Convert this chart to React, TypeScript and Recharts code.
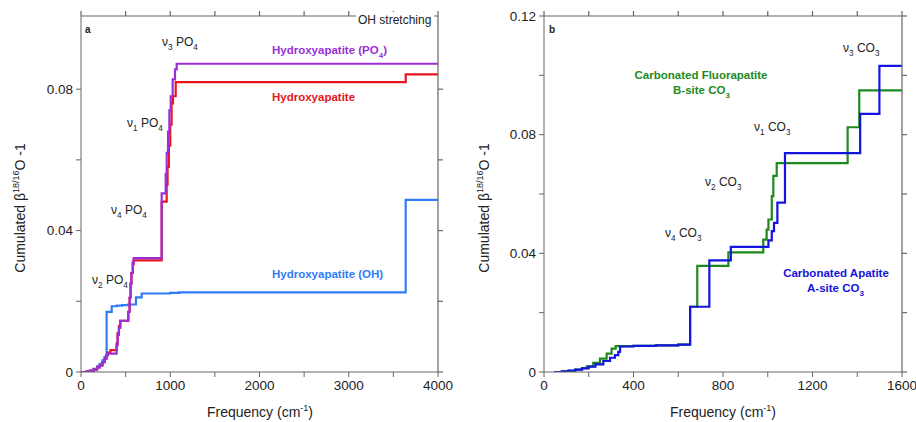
import { LineChart, Line, XAxis, YAxis } from "recharts";

// panel a: cumulated beta vs frequency (stepAfter points)
const hapPO4 = [
  [0, 0], [60, 0.0001], [100, 0.0003], [140, 0.0007], [180, 0.0013], [210, 0.0019], [240, 0.0028],
  [265, 0.0038], [285, 0.0048], [300, 0.0052], [399, 0.0075], [410, 0.0105], [425, 0.0125],
  [440, 0.0145], [530, 0.017], [545, 0.021], [555, 0.025], [565, 0.028], [580, 0.031], [590, 0.0322],
  [904, 0.0505], [949, 0.056], [960, 0.062], [975, 0.068], [990, 0.074], [1005, 0.078],
  [1027, 0.0828], [1053, 0.0856], [1072, 0.0872], [4000, 0.0872],
];
const hapTotal = [
  [0, 0], [60, 0.0001], [100, 0.0003], [140, 0.0007], [180, 0.0013], [210, 0.0019], [240, 0.0028],
  [265, 0.0038], [285, 0.0048], [300, 0.0055], [330, 0.0062], [399, 0.008], [410, 0.011],
  [425, 0.013], [440, 0.0145], [530, 0.017], [545, 0.021], [555, 0.025], [565, 0.028], [580, 0.0305],
  [590, 0.0316], [904, 0.0482], [960, 0.053], [970, 0.058], [985, 0.064], [1000, 0.07],
  [1015, 0.076], [1030, 0.078], [1061, 0.082], [3638, 0.0842], [4000, 0.0842],
];
const hapOH = [
  [0, 0], [60, 0.0001], [100, 0.0004], [140, 0.0009], [180, 0.0016], [210, 0.0023], [240, 0.0033],
  [265, 0.0043], [287, 0.017], [344, 0.0186], [400, 0.0188], [460, 0.0189], [527, 0.0191],
  [616, 0.0211], [680, 0.0222], [1000, 0.0224], [1100, 0.0225], [3638, 0.0487], [4000, 0.0487],
];

// panel b
const fluorB = [
  [46, 0], [80, 0.0002], [110, 0.0004], [140, 0.0008], [170, 0.0013], [191, 0.0019], [220, 0.0031],
  [250, 0.0045], [280, 0.0062], [302, 0.0079], [320, 0.0087], [400, 0.0088], [500, 0.009],
  [600, 0.0092], [653, 0.022], [685, 0.0358], [824, 0.0403], [980, 0.0446], [995, 0.048],
  [1003, 0.0514], [1018, 0.0593], [1025, 0.0661], [1040, 0.0704], [1357, 0.0825], [1409, 0.0949],
  [1600, 0.0949],
];
const apatiteA = [
  [46, 0], [80, 0.0002], [110, 0.0005], [140, 0.0008], [170, 0.0012], [200, 0.0018], [230, 0.0026],
  [265, 0.0037], [295, 0.0048], [317, 0.0057], [332, 0.0068], [340, 0.0086], [400, 0.0088],
  [500, 0.009], [600, 0.0092], [653, 0.022], [739, 0.0376], [835, 0.0422], [1003, 0.0444],
  [1018, 0.0475], [1028, 0.0503], [1043, 0.0571], [1077, 0.0738], [1413, 0.087], [1499, 0.1032],
  [1600, 0.1032],
];

const ticksA = [0, 500, 1000, 1500, 2000, 2500, 3000, 3500, 4000];
const labelsA = [0, 1000, 2000, 3000, 4000];
const ticksB = [0, 200, 400, 600, 800, 1000, 1200, 1400, 1600];
const labelsB = [0, 400, 800, 1200, 1600];
const yTicksA = [0, 0.02, 0.04, 0.06, 0.08];
const yTicksB = [0, 0.02, 0.04, 0.06, 0.08, 0.1, 0.12];
const yLabels = [0, 0.04, 0.08, 0.12];

const FONT = "'Liberation Sans', Arial, sans-serif";
const AXIS = "#666";
const TICK = 5;
const H = 422;
const X_AXIS_H = 50;

const toPts = (arr: number[][]) => arr.map(([f, v]) => ({ f, v }));

function Sub({ x, y, main, sub, main2, sub2, color = "#222", size = 12 }: any) {
  return (
    <text x={x} y={y} fontSize={size} fill={color}>
      {main}
      <tspan dy={4} fontSize={size * 0.68}>{sub}</tspan>
      <tspan dy={-4}>{main2}</tspan>
      <tspan dy={4} fontSize={size * 0.68}>{sub2}</tspan>
    </text>
  );
}

// top + right edges of the box with outward ticks, mirroring the real axes
function Frame({ left, width, margin, yAxisWidth, xDomain, xTicks, yDomain, yTicks }: any) {
  const x0 = left + yAxisWidth;
  const x1 = left + width - margin.right;
  const y0 = H - X_AXIS_H;
  const y1 = margin.top;
  const sx = (v: number) => x0 + ((v - xDomain[0]) / (xDomain[1] - xDomain[0])) * (x1 - x0);
  const sy = (v: number) => y0 - ((v - yDomain[0]) / (yDomain[1] - yDomain[0])) * (y0 - y1);
  return (
    <g>
      <line x1={x0} y1={y1} x2={x1} y2={y1} stroke={AXIS} strokeWidth={1.2} />
      <line x1={x1} y1={y1} x2={x1} y2={y0} stroke={AXIS} strokeWidth={1.2} />
      {xTicks.map((t: number) => (
        <line key={`x${t}`} x1={sx(t)} y1={y1} x2={sx(t)} y2={y1 - TICK} stroke={AXIS} strokeWidth={1.2} />
      ))}
      {yTicks.map((t: number) => (
        <line key={`y${t}`} x1={x1} y1={sy(t)} x2={x1 + TICK} y2={sy(t)} stroke={AXIS} strokeWidth={1.2} />
      ))}
    </g>
  );
}

function Panel({ width, margin, xDomain, xTicks, xLabels, yDomain, yTicks, yAxisWidth, series }: any) {
  const tickStyle = { fontSize: 13.5, fill: "#222", fontFamily: FONT };
  return (
    <LineChart width={width} height={H} margin={margin}>
      <XAxis
        dataKey="f"
        type="number"
        domain={xDomain}
        ticks={xTicks}
        interval={0}
        height={X_AXIS_H}
        tickSize={TICK}
        tickMargin={3}
        stroke={AXIS}
        tick={tickStyle}
        allowDataOverflow
        tickFormatter={(v: number) => (xLabels.includes(v) ? String(v) : "")}
      />
      <YAxis
        type="number"
        domain={yDomain}
        ticks={yTicks}
        interval={0}
        width={yAxisWidth}
        tickSize={TICK}
        tickMargin={3}
        stroke={AXIS}
        tick={tickStyle}
        allowDataOverflow
        tickFormatter={(v: number) => (yLabels.includes(v) ? String(v) : "")}
      />
      {series.map((s: any) => (
        <Line
          key={s.name}
          data={toPts(s.data)}
          dataKey="v"
          type="stepAfter"
          stroke={s.color}
          strokeWidth={2.2}
          dot={false}
          activeDot={false}
          isAnimationActive={false}
        />
      ))}
    </LineChart>
  );
}

const panelA = {
  left: 0,
  width: 460,
  margin: { top: 16, right: 22, bottom: 0, left: 0 },
  xDomain: [0, 4000],
  xTicks: ticksA,
  xLabels: labelsA,
  yDomain: [0, 0.1007],
  yTicks: yTicksA,
  yAxisWidth: 81,
};
const panelB = {
  left: 460,
  width: 456,
  margin: { top: 16, right: 14, bottom: 0, left: 0 },
  xDomain: [0, 1600],
  xTicks: ticksB,
  xLabels: labelsB,
  yDomain: [0, 0.12],
  yTicks: yTicksB,
  yAxisWidth: 84,
};

export default function App() {
  return (
    <div style={{ position: "absolute", left: 0, top: 0, width: 916, height: H, background: "#fff", fontFamily: FONT }}>
      <div style={{ position: "absolute", left: 0, top: 0 }}>
        <Panel
          {...panelA}
          series={[
            { name: "oh", data: hapOH, color: "#2f7cf6" },
            { name: "tot", data: hapTotal, color: "#e8161c" },
            { name: "po4", data: hapPO4, color: "#9a2fd8" },
          ]}
        />
      </div>
      <div style={{ position: "absolute", left: 460, top: 0 }}>
        <Panel
          {...panelB}
          series={[
            { name: "fluor", data: fluorB, color: "#1e8a1e" },
            { name: "apa", data: apatiteA, color: "#1414e0" },
          ]}
        />
      </div>
      <svg width={916} height={H} style={{ position: "absolute", left: 0, top: 0, pointerEvents: "none", fontFamily: FONT }}>
        <Frame {...panelA} />
        <Frame {...panelB} />

        {/* panel a */}
        <text x={85} y={33} fontSize={10} fontWeight="bold" fill="#222">a</text>
        <rect x={356} y={12} width={78} height={14} fill="#fff" />
        <text x={358} y={24} fontSize={12} fill="#222">OH stretching</text>
        <Sub x={162} y={46} main="ν" sub="3" main2=" PO" sub2="4" />
        <Sub x={127} y={127} main="ν" sub="1" main2=" PO" sub2="4" />
        <Sub x={111} y={214} main="ν" sub="4" main2=" PO" sub2="4" />
        <Sub x={92} y={284} main="ν" sub="2" main2=" PO" sub2="4" />
        <text x={272} y={54} fontSize={11.5} fontWeight="bold" fill="#9a2fd8">
          Hydroxyapatite (PO<tspan dy={4} fontSize={8}>4</tspan><tspan dy={-4}>)</tspan>
        </text>
        <text x={272} y={101} fontSize={11.5} fontWeight="bold" fill="#e8161c">Hydroxyapatite</text>
        <text x={272} y={278} fontSize={11.5} fontWeight="bold" fill="#2f7cf6">Hydroxyapatite (OH)</text>
        <text x={260} y={417} fontSize={14} fill="#222" textAnchor="middle">
          Frequency (cm<tspan dy={-6} fontSize={9}>-1</tspan><tspan dy={6}>)</tspan>
        </text>
        <text transform="translate(25,208) rotate(-90)" fontSize={14} fill="#222" textAnchor="middle">
          Cumulated β<tspan dy={-6} fontSize={9}>18/16</tspan><tspan dy={6}>O -1</tspan>
        </text>

        {/* panel b */}
        <text x={549} y={33} fontSize={10} fontWeight="bold" fill="#222">b</text>
        <Sub x={843} y={52} main="ν" sub="3" main2=" CO" sub2="3" />
        <Sub x={754} y={131} main="ν" sub="1" main2=" CO" sub2="3" />
        <Sub x={705} y={186} main="ν" sub="2" main2=" CO" sub2="3" />
        <Sub x={665} y={237} main="ν" sub="4" main2=" CO" sub2="3" />
        <text x={701} y={79} fontSize={11.5} fontWeight="bold" fill="#1e8a1e" textAnchor="middle">Carbonated Fluorapatite</text>
        <text x={673} y={94} fontSize={11.5} fontWeight="bold" fill="#1e8a1e">
          B-site CO<tspan dy={4} fontSize={8}>3</tspan>
        </text>
        <text x={836} y={277} fontSize={11.5} fontWeight="bold" fill="#1414e0" textAnchor="middle">Carbonated Apatite</text>
        <text x={807} y={292} fontSize={11.5} fontWeight="bold" fill="#1414e0">
          A-site CO<tspan dy={4} fontSize={8}>3</tspan>
        </text>
        <text x={723} y={417} fontSize={14} fill="#222" textAnchor="middle">
          Frequency (cm<tspan dy={-6} fontSize={9}>-1</tspan><tspan dy={6}>)</tspan>
        </text>
        <text transform="translate(489,208) rotate(-90)" fontSize={14} fill="#222" textAnchor="middle">
          Cumulated β<tspan dy={-6} fontSize={9}>18/16</tspan><tspan dy={6}>O -1</tspan>
        </text>
      </svg>
    </div>
  );
}
